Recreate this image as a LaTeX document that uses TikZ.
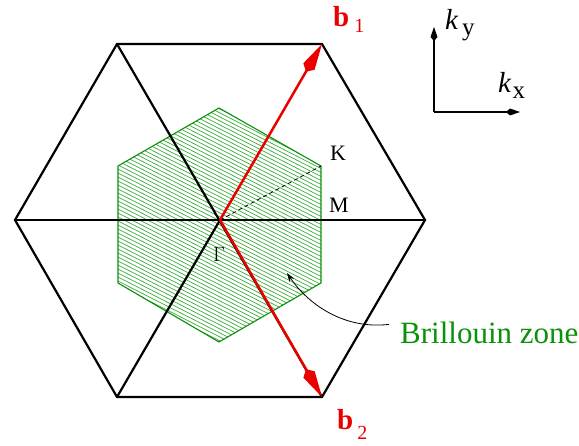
\documentclass[tikz,border=0pt]{standalone}
\usepackage{fontspec}
\setmainfont{Liberation Serif}
\usetikzlibrary{arrows.meta}
\definecolor{bzgreen}{RGB}{10,145,10}
\definecolor{hatchgreen}{RGB}{60,170,60}
\definecolor{bred}{RGB}{235,0,0}
\newcommand{\fsz}[1]{\fontsize{#1}{#1}\selectfont}
\begin{document}
\begin{tikzpicture}[x=1pt,y=-1pt,
  latline/.style={line width=2.2pt,black,line join=miter},
  recvec/.style={line width=2.5pt,bred,-{Kite[length=32pt,width=13pt,inset=6pt]}},
  axisline/.style={line width=1.2pt,black,-{Kite[length=14pt,width=7pt,inset=4pt]}},
  hatchline/.style={line width=0.7pt,hatchgreen},
  lbl/.style={inner sep=0pt,anchor=base west},
]
\useasboundingbox (0,0) rectangle (579,446);
% lattice hexagon vertices
\coordinate (O) at (220,220);
\coordinate (A1) at (425,220);
\coordinate (A2) at (322,44);
\coordinate (A3) at (117,44);
\coordinate (A4) at (15,220);
\coordinate (A5) at (117,397);
\coordinate (A6) at (322,397);
% Brillouin zone vertices
\coordinate (B1) at (321,166);
\coordinate (B2) at (219,108);
\coordinate (B3) at (118,166);
\coordinate (B4) at (118,283);
\coordinate (B5) at (219,342);
\coordinate (B6) at (321,283);
% Brillouin zone hatching
\begin{scope}
  \clip (B1)--(B2)--(B3)--(B4)--(B5)--(B6)--cycle;
  \foreach \c in {4,8,...,344} {
    \draw[hatchline] (116,\c) -- (323,\c+105.5);
  }
\end{scope}
\draw[bzgreen,line width=1.1pt,line join=miter] (B1)--(B2)--(B3)--(B4)--(B5)--(B6)--cycle;
% lattice
\draw[latline] (A1)--(A2)--(A3)--(A4)--(A5)--(A6)--cycle;
\draw[latline] (A4)--(A1);
\draw[latline] (A3)--(A6);
\draw[latline] (A5)--(O);
% dashed line to K
\draw[line width=0.8pt,dash pattern=on 4pt off 3pt] (O)--(B1);
% reciprocal vectors
\draw[recvec] (O)--(A2);
\draw[recvec] (O)--(A6);
% labels
\node[lbl] (K) at (330,161) {\fsz{22}K};
\node[lbl] (M) at (329,213) {\fsz{22}M};
\node[lbl] (G) at (213,262) {\fsz{22}$\Gamma$};
\node[lbl,text=bred] (b1) at (333,27) {\fsz{29}\bfseries b\hspace{5pt}\raisebox{-6pt}{\fsz{20}\mdseries 1}};
\node[lbl,text=bred] (b2) at (337,430) {\fsz{29}\bfseries b\hspace{4pt}\raisebox{-10pt}{\fsz{20}\mdseries 2}};
% axes
\coordinate (ax0) at (434,112);
\coordinate (axy) at (434,27);
\coordinate (axx) at (520,112);
\draw[axisline] (ax0)--(axy);
\draw[axisline] (ax0)--(axx);
\node[lbl] (ky) at (445,30) {\fsz{29}\itshape k\hspace{4pt}\upshape\raisebox{-6pt}{\fsz{25}y}};
\node[lbl] (kx) at (498,93) {\fsz{29}\itshape k\hspace{1.5pt}\upshape\raisebox{-6pt}{\fsz{25}x}};
% Brillouin zone label
\node[lbl,text=bzgreen] (bz) at (400,344) {\fsz{31}Brillouin zone};
\coordinate (bzend) at (287,273);
\draw[line width=0.8pt,-{Stealth[length=9pt,width=6pt,inset=3pt]}]
  (bz.west) ++(-11,-9) coordinate (bzstart)
  (bzstart) .. controls (340,330) and (305,300) .. (bzend);
\end{tikzpicture}
\end{document}
